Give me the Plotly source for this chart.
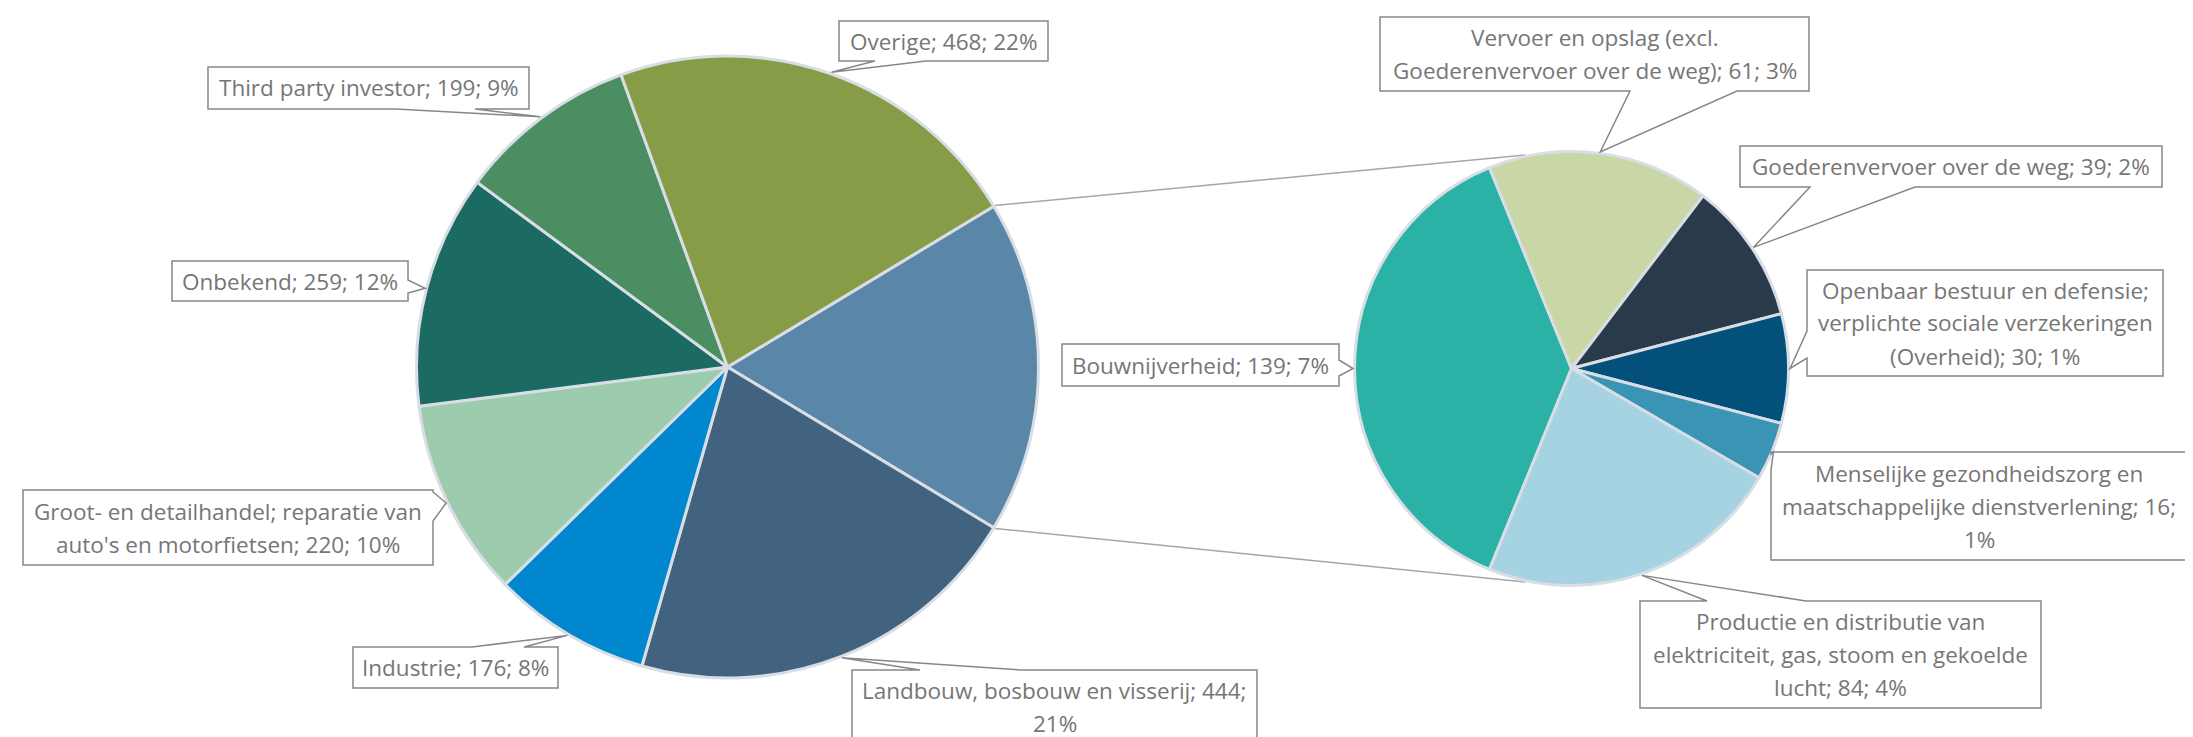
import math
import textwrap
import plotly.graph_objects as go

# ---------------- data ----------------
main_labels = ["Landbouw, bosbouw en visserij", "Industrie",
               "Groot- en detailhandel; reparatie van auto's en motorfietsen",
               "Onbekend", "Third party investor", "Overige"]
main_values = [444, 176, 220, 259, 199, 468]
main_colors = ["#42637F", "#0087CE", "#9DCBAD", "#1B6B63", "#4A8E61", "#879C46"]
other_color = "#5A86A8"

sub_labels = ["Bouwnijverheid",
              "Vervoer en opslag (excl. Goederenvervoer over de weg)",
              "Goederenvervoer over de weg",
              "Openbaar bestuur en defensie; verplichte sociale verzekeringen (Overheid)",
              "Menselijke gezondheidszorg en maatschappelijke dienstverlening",
              "Productie en distributie van elektriciteit, gas, stoom en gekoelde lucht"]
sub_values = [139, 61, 39, 30, 16, 84]
sub_colors = ["#2BB2A6", "#C9D7A7", "#293B4B", "#03507A", "#3A95B4", "#A6D3E2"]

# ---------------- layout parameters ----------------
W, H = 2193, 737
FONT = "Open Sans"
FSIZE = 22.5
LINE_H = 33
TXT = "#767676"
BORDER = "#878787"
main_c, main_r = (719.5, 359.0), 311.0
sub_c, sub_r = (1563.5, 360.5), 217.0
connector_angle = 12.2

# label wrap widths (chars) and callout boxes (pixel boxes, pointer side, pointer base)
main_wrap = [35, 60, 37, 60, 60, 60]
main_boxes = [((844, 662, 1249, 736), "top", (912, 1012)),
              ((345, 639, 550, 680), "top", (464, 516)),
              ((15, 482, 425, 557), "right", (484, 513)),
              ((164, 253, 400, 293), "right", (272, 285)),
              ((200, 59, 521, 101), "bottom", (388, 467)),
              ((831, 13, 1040, 53), "bottom", (867, 918))]
sub_wrap = [60, 36, 60, 32, 37, 37]
sub_boxes = [((1054, 336, 1331, 378), "right", (352, 368)),
             ((1372, 9, 1801, 83), "bottom", (1622, 1729)),
             ((1732, 138, 2154, 179), "bottom", (1802, 1907)),
             ((1799, 262, 2155, 368), "left", (323, 350)),
             ((1763, 444, 2179, 552), "left", (446, 462)),
             ((1632, 593, 2033, 700), "top", (1699, 1798))]

total = sum(main_values) + sum(sub_values)
other_total = sum(sub_values)


def px(x, y):
    return x / W, 1 - y / H


def mids(values, rotation):
    tot = sum(values)
    acc = 0
    out = []
    for v in values:
        out.append(rotation + 360.0 * (acc + v / 2.0) / tot)
        acc += v
    return out


def on_circle(c, r, ang):
    a = math.radians(ang)
    return (c[0] + r * math.sin(a), c[1] - r * math.cos(a))


def domain(c, r):
    return dict(x=[(c[0] - r) / W, (c[0] + r) / W],
                y=[1 - (c[1] + r) / H, 1 - (c[1] - r) / H])


main_trace_vals = [other_total] + main_values
main_rot = 90 - 180.0 * other_total / total
sub_rot = 270 - 180.0 * sub_values[0] / other_total

fig = go.Figure()
fig.add_trace(go.Pie(values=main_trace_vals, labels=["Other"] + main_labels,
                     marker=dict(colors=[other_color] + main_colors,
                                 line=dict(color="#D8DDE6", width=3)),
                     sort=False, direction="clockwise", rotation=main_rot,
                     textinfo="none", hoverinfo="skip",
                     domain=domain(main_c, main_r)))
fig.add_trace(go.Pie(values=sub_values, labels=sub_labels,
                     marker=dict(colors=sub_colors,
                                 line=dict(color="#D8DDE6", width=3)),
                     sort=False, direction="clockwise", rotation=sub_rot,
                     textinfo="none", hoverinfo="skip",
                     domain=domain(sub_c, sub_r)))

shapes = []
annotations = []

# connector lines between pies
a_start = main_rot
a_end = main_rot + 360.0 * other_total / total
for am, asub in [(a_start, -connector_angle), (a_end, 180 + connector_angle)]:
    p0 = on_circle(main_c, main_r + 1.5, am)
    p1 = on_circle(sub_c, sub_r + 1.5, asub)
    x0, y0 = px(*p0)
    x1, y1 = px(*p1)
    shapes.append(dict(type="line", xref="paper", yref="paper", x0=x0, y0=y0, x1=x1, y1=y1,
                       line=dict(color="#A6A6A6", width=1.5), layer="below"))


def callout(box, side, base, tip):
    x0, y0, x1, y1 = box
    b0, b1 = base
    pts = [(x0, y0)]
    if side == "top":
        pts += [(b0, y0), tip, (b1, y0)]
    pts.append((x1, y0))
    if side == "right":
        pts += [(x1, b0), tip, (x1, b1)]
    pts.append((x1, y1))
    if side == "bottom":
        pts += [(b1, y1), tip, (b0, y1)]
    pts.append((x0, y1))
    if side == "left":
        pts += [(x0, b1), tip, (x0, b0)]
    path = ""
    for i, (x, y) in enumerate(pts):
        X, Y = px(x, y)
        path += ("M" if i == 0 else "L") + f"{X:.6f},{Y:.6f} "
    path += "Z"
    return dict(type="path", xref="paper", yref="paper", path=path,
                fillcolor="white", line=dict(color=BORDER, width=1.5), layer="above")


def add_labels(names, values, wraps, boxes, tip_angles, c, r):
    for name, v, wr, (box, side, base), ang in zip(names, values, wraps, boxes, tip_angles):
        pct = round(100.0 * v / total)
        text = f"{name}; {v}; {pct}%"
        lines = textwrap.wrap(text, width=wr, break_on_hyphens=False)
        tip = on_circle(c, r + 1.5, ang)
        shapes.append(callout(box, side, base, tip))
        cx = (box[0] + box[2]) / 2.0
        cy = (box[1] + box[3]) / 2.0
        n = len(lines)
        for i, ln in enumerate(lines):
            ly = cy + (i - (n - 1) / 2.0) * LINE_H
            X, Y = px(cx, ly)
            annotations.append(dict(x=X, y=Y, xref="paper", yref="paper", text=ln,
                                    showarrow=False, xanchor="center", yanchor="middle",
                                    font=dict(family=FONT, size=FSIZE, color=TXT)))


add_labels(main_labels, main_values, main_wrap, main_boxes,
           mids(main_trace_vals, main_rot)[1:], main_c, main_r)
add_labels(sub_labels, sub_values, sub_wrap, sub_boxes,
           mids(sub_values, sub_rot), sub_c, sub_r)

fig.update_layout(width=W, height=H, margin=dict(l=0, r=0, t=0, b=0),
                  paper_bgcolor="white", plot_bgcolor="white", showlegend=False,
                  shapes=shapes, annotations=annotations,
                  font=dict(family=FONT, size=FSIZE, color=TXT))

fig.write_html("out.html")
